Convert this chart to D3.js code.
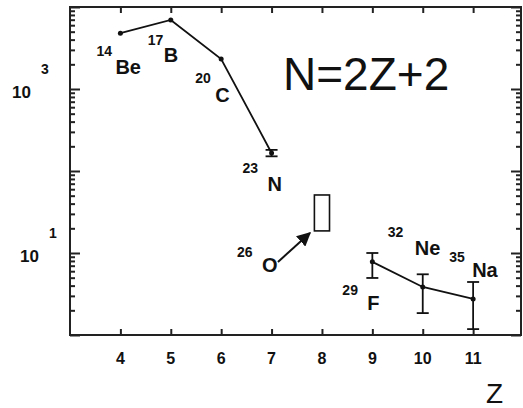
<!DOCTYPE html>
<html>
<head>
<meta charset="utf-8">
<script src="https://cdn.jsdelivr.net/npm/d3@7"></script>
<style>
  body { margin: 0; background: #fff; }
  text { font-family: "Liberation Sans", Arial, sans-serif; fill: #111; }
</style>
</head>
<body>
<div id="graf"></div>
<script>
// cross sections vs Z for N = 2Z+2 isotopes
const zLeft = [4, 5, 6, 7]
const valLeft = [4800, 6950, 2320, 166]
const errLeft = [null, null, null, [151, 181]]

const zRight = [9, 10, 11]
const valRight = [7.8, 3.85, 2.75]
const errRight = [[4.96, 10], [1.85, 5.5], [1.18, 4.43]]

// upper limit box for 26O
const zBox = 8
const boxRange = [18.6, 51]

const isotopes = [
  { mass: "14", sym: "Be", z: 4, v: 4800 },
  { mass: "17", sym: "B", z: 5, v: 6950 },
  { mass: "20", sym: "C", z: 6, v: 2320 },
  { mass: "23", sym: "N", z: 7, v: 166 },
  { mass: "26", sym: "O", z: 8, v: 31.5 },
  { mass: "29", sym: "F", z: 9, v: 7.8 },
  { mass: "32", sym: "Ne", z: 10, v: 3.85 },
  { mass: "35", sym: "Na", z: 11, v: 2.75 },
]

const xTicks = [4, 5, 6, 7, 8, 9, 10, 11]
const yLabelled = [1000, 10]

// label placement (pixel offsets from the point)
const labelPos = {
  Be: [-24, 23, -5, 41],
  B: [-23, 25, -7, 42],
  C: [-26, 24, -6, 43],
  N: [-29, 20, -4, 38],
  O: [-85, 45, -60, 60],
  F: [-30, 33, -5, 48],
  Ne: [-35, -50, -8, -32],
  Na: [-24, -37, -1, -22],
}

const W = 523, H = 408
const mLeft = 70, mRight = 521, mTop = 7, mBottom = 335

const svg = d3.select("#graf").append("svg")
  .attr("width", W).attr("height", H)

const x = d3.scaleLinear().domain([3, 11.95]).range([mLeft, mRight])
const y = d3.scaleLog().domain([1, 10000]).range([mBottom, mTop])

const frameColor = "#222"

// frame
svg.append("rect")
  .attr("x", mLeft).attr("y", mTop)
  .attr("width", mRight - mLeft).attr("height", mBottom - mTop)
  .attr("fill", "none").attr("stroke", frameColor).attr("stroke-width", 2)

// log ticks left and right
const minor = []
for (let e = 0; e < 4; e++) {
  for (let m = 2; m <= 9; m++) minor.push(m * Math.pow(10, e))
}
const major = [1, 10, 100, 1000, 10000]

const yAxisL = d3.axisRight(y).tickValues(minor).tickSize(5).tickFormat("")
const yAxisL2 = d3.axisRight(y).tickValues(major).tickSize(10).tickFormat("")
const yAxisR = d3.axisLeft(y).tickValues(minor).tickSize(5).tickFormat("")
const yAxisR2 = d3.axisLeft(y).tickValues(major).tickSize(10).tickFormat("")

;[[yAxisL, mLeft], [yAxisL2, mLeft], [yAxisR, mRight], [yAxisR2, mRight]].forEach(([ax, px]) => {
  const g = svg.append("g").attr("transform", `translate(${px},0)`).call(ax)
  g.select(".domain").remove()
  g.selectAll("line").attr("stroke", frameColor).attr("stroke-width", 2)
})

// x ticks bottom and top
const xAxisB = d3.axisTop(x).tickValues(xTicks).tickSize(6).tickFormat("")
const xAxisT = d3.axisBottom(x).tickValues(xTicks).tickSize(6).tickFormat("")
;[[xAxisB, mBottom], [xAxisT, mTop]].forEach(([ax, py]) => {
  const g = svg.append("g").attr("transform", `translate(0,${py})`).call(ax)
  g.select(".domain").remove()
  g.selectAll("line").attr("stroke", frameColor).attr("stroke-width", 2)
})

// x tick labels
svg.selectAll(".xlab").data(xTicks).enter().append("text")
  .attr("x", (d) => x(d)).attr("y", 364)
  .attr("text-anchor", "middle")
  .attr("font-size", 16).attr("font-weight", "bold")
  .text((d) => d)

// y labels 10^3, 10^1
const yLabX = { 1000: 12, 10: 20 }
yLabelled.forEach((v) => {
  const t = svg.append("text")
    .attr("x", yLabX[v]).attr("y", y(v) + 9)
    .attr("font-size", 17).attr("font-weight", "bold")
  t.append("tspan").text("10")
  t.append("tspan").attr("dx", 10).attr("dy", -24).attr("font-size", 14)
    .text(Math.round(Math.log10(v)))
})

// lines
const line = d3.line().x((d) => x(d[0])).y((d) => y(d[1]))
const ptsL = zLeft.map((z, i) => [z, valLeft[i]])
const ptsR = zRight.map((z, i) => [z, valRight[i]])
;[ptsL, ptsR].forEach((pts) => {
  svg.append("path").datum(pts).attr("d", line)
    .attr("fill", "none").attr("stroke", "#111").attr("stroke-width", 1.8)
  svg.selectAll(null).data(pts).enter().append("circle")
    .attr("cx", (d) => x(d[0])).attr("cy", (d) => y(d[1]))
    .attr("r", 2.5).attr("fill", "#111")
})

// error bars
const errs = []
zLeft.forEach((z, i) => { if (errLeft[i]) errs.push([z, errLeft[i]]) })
zRight.forEach((z, i) => errs.push([z, errRight[i]]))
errs.forEach(([z, [lo, hi]]) => {
  const g = svg.append("g").attr("stroke", "#111").attr("stroke-width", 1.8)
  g.append("line").attr("x1", x(z)).attr("x2", x(z)).attr("y1", y(lo)).attr("y2", y(hi))
  ;[lo, hi].forEach((v) => {
    g.append("line").attr("x1", x(z) - 6).attr("x2", x(z) + 6)
      .attr("y1", y(v)).attr("y2", y(v))
  })
})

// 26O upper-limit box
svg.append("rect")
  .attr("x", x(zBox - 0.15)).attr("y", y(boxRange[1]))
  .attr("width", x(zBox + 0.15) - x(zBox - 0.15))
  .attr("height", y(boxRange[0]) - y(boxRange[1]))
  .attr("fill", "none").attr("stroke", "#111").attr("stroke-width", 1.6)

// arrow to box
svg.append("defs").append("marker")
  .attr("id", "arr").attr("viewBox", "0 0 10 10")
  .attr("refX", 9).attr("refY", 5)
  .attr("markerWidth", 7).attr("markerHeight", 7)
  .attr("orient", "auto")
  .append("path").attr("d", "M0,0 L10,5 L0,10 z").attr("fill", "#111")
const oc = [x(zBox), y(Math.sqrt(boxRange[0] * boxRange[1]))]
svg.append("line")
  .attr("x1", oc[0] - 44).attr("y1", oc[1] + 49)
  .attr("x2", oc[0] - 12).attr("y2", oc[1] + 20)
  .attr("stroke", "#111").attr("stroke-width", 2)
  .attr("marker-end", "url(#arr)")

// isotope labels
isotopes.forEach((d) => {
  const px = x(d.z), py = y(d.v)
  const o = labelPos[d.sym]
  svg.append("text").attr("x", px + o[0]).attr("y", py + o[1])
    .attr("font-size", 14).attr("font-weight", "bold").text(d.mass)
  svg.append("text").attr("x", px + o[2]).attr("y", py + o[3])
    .attr("font-size", 20).attr("font-weight", "bold").text(d.sym)
})

// title and axis name
svg.append("text").attr("x", 283).attr("y", 90)
  .attr("font-size", 46).text("N=2Z+2")
svg.append("text").attr("x", 486).attr("y", 403)
  .attr("font-size", 28).text("Z")
</script>
</body>
</html>
